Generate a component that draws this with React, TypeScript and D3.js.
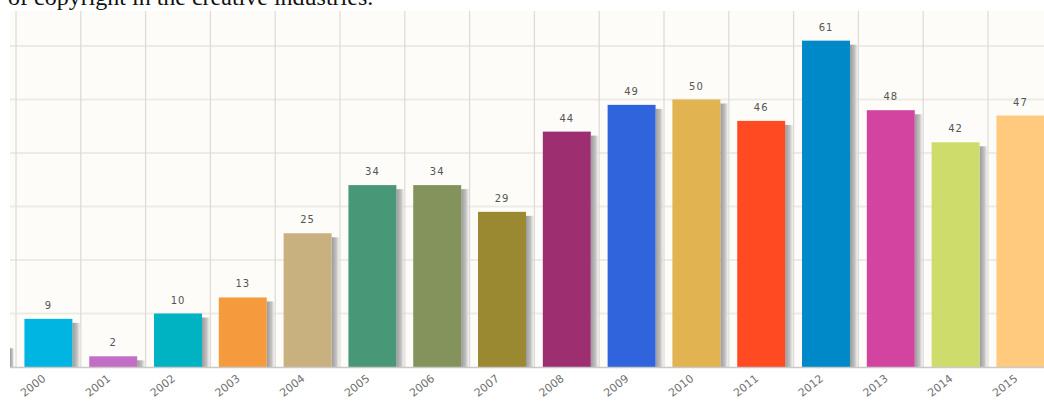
import { useEffect, useRef } from "react";
import * as d3 from "d3";

// chart data
const years = [
  "2000", "2001", "2002", "2003", "2004", "2005", "2006", "2007",
  "2008", "2009", "2010", "2011", "2012", "2013", "2014", "2015",
];
const counts = [9, 2, 10, 13, 25, 34, 34, 29, 44, 49, 50, 46, 61, 48, 42, 47];
const colors = [
  "#00b5e2", "#c26ec5", "#00b3c3", "#f59b3d", "#c9b07f", "#489878",
  "#83935b", "#9a8930", "#9d2e70", "#2f64dc", "#e1b351", "#ff4a22",
  "#0089c9", "#d244a0", "#cddc6a", "#ffca7d",
];
const gridValues = [0, 10, 20, 30, 40, 50, 60];

const width = 1044;
const height = 404;
const plot = { left: 10, top: 11, bottom: 367, right: 1044 };

export default function App() {
  const ref = useRef<SVGSVGElement | null>(null);

  useEffect(() => {
    const svg = d3.select(ref.current);
    svg.selectAll("*").remove();

    const data = years.map((y, i) => ({ year: y, value: counts[i], color: colors[i] }));

    // band scale runs past the right edge, the last bar is cut like in the picture
    const x = d3.scaleBand<string>()
      .domain(years)
      .range([16, 16 + 64.8 * years.length])
      .paddingInner(0.26)
      .paddingOuter(0.13);

    const y = d3.scaleLinear().domain([0, 60]).range([plot.bottom, 46]);

    const defs = svg.append("defs");
    const grad = defs.append("linearGradient").attr("id", "shadow").attr("x1", 0).attr("x2", 1);
    grad.append("stop").attr("offset", 0).attr("stop-color", "#9a9a9a");
    grad.append("stop").attr("offset", 0.6).attr("stop-color", "#c2c2c2");
    grad.append("stop").attr("offset", 1).attr("stop-color", "#e6e6e4").attr("stop-opacity", 0.4);

    // heading text cut off at the top
    svg.append("text")
      .attr("x", 8)
      .attr("y", 4.5)
      .attr("font-family", "'Liberation Serif', 'Times New Roman', serif")
      .attr("font-size", 24)
      .attr("fill", "#111")
      .text("of copyright in the creative industries.");

    // plot background
    svg.append("rect")
      .attr("x", plot.left)
      .attr("y", plot.top)
      .attr("width", plot.right - plot.left)
      .attr("height", plot.bottom - plot.top)
      .attr("fill", "#fdfcf8");

    // horizontal grid
    svg.append("g")
      .selectAll("line")
      .data(gridValues.slice(1))
      .join("line")
      .attr("x1", plot.left)
      .attr("x2", plot.right)
      .attr("y1", (d) => y(d))
      .attr("y2", (d) => y(d))
      .attr("stroke", "#edebe6")
      .attr("stroke-width", 2);

    // vertical grid at band boundaries
    const half = (x.step() - x.bandwidth()) / 2;
    svg.append("g")
      .selectAll("line")
      .data(years)
      .join("line")
      .attr("x1", (d) => (x(d) as number) - half)
      .attr("x2", (d) => (x(d) as number) - half)
      .attr("y1", plot.top)
      .attr("y2", plot.bottom)
      .attr("stroke", "#dcdad6")
      .attr("stroke-width", 1.2);

    // small shadow piece at the left edge
    svg.append("rect")
      .attr("x", plot.left)
      .attr("y", y(3.5))
      .attr("width", 4)
      .attr("height", plot.bottom - y(3.5))
      .attr("fill", "url(#shadow)");

    // bar shadows
    svg.append("g")
      .selectAll("rect")
      .data(data)
      .join("rect")
      .attr("x", (d) => (x(d.year) as number) + x.bandwidth())
      .attr("y", (d) => y(d.value) + 4)
      .attr("width", 8)
      .attr("height", (d) => plot.bottom - y(d.value) - 4)
      .attr("fill", "url(#shadow)");

    // bars
    svg.append("g")
      .selectAll("rect")
      .data(data)
      .join("rect")
      .attr("x", (d) => x(d.year) as number)
      .attr("y", (d) => y(d.value))
      .attr("width", x.bandwidth())
      .attr("height", (d) => plot.bottom - y(d.value))
      .attr("fill", (d) => d.color);

    // baseline
    svg.append("line")
      .attr("x1", plot.left)
      .attr("x2", plot.right)
      .attr("y1", plot.bottom + 0.5)
      .attr("y2", plot.bottom + 0.5)
      .attr("stroke", "#c9c9c9")
      .attr("stroke-width", 1.5);

    // value labels
    svg.append("g")
      .attr("font-family", "'DejaVu Sans', Verdana, sans-serif")
      .attr("font-size", 10)
      .attr("fill", "#555")
      .attr("text-anchor", "middle")
      .selectAll("text")
      .data(data)
      .join("text")
      .attr("x", (d) => (x(d.year) as number) + x.bandwidth() / 2)
      .attr("y", (d) => y(d.value) - 10)
      .attr("letter-spacing", 1)
      .text((d) => d.value);

    // year labels, rotated
    svg.append("g")
      .attr("font-family", "'DejaVu Sans', Verdana, sans-serif")
      .attr("font-size", 11)
      .attr("fill", "#707070")
      .attr("text-anchor", "end")
      .selectAll("text")
      .data(years)
      .join("text")
      .attr("transform", (d) => `translate(${(x(d) as number) + x.bandwidth() / 2 - 2},${plot.bottom + 13}) rotate(-38)`)
      .text((d) => d);
  }, []);

  return (
    <div style={{ position: "absolute", left: 0, top: 0 }}>
      <svg ref={ref} width={width} height={height} style={{ display: "block", background: "#fff" }} />
    </div>
  );
}
